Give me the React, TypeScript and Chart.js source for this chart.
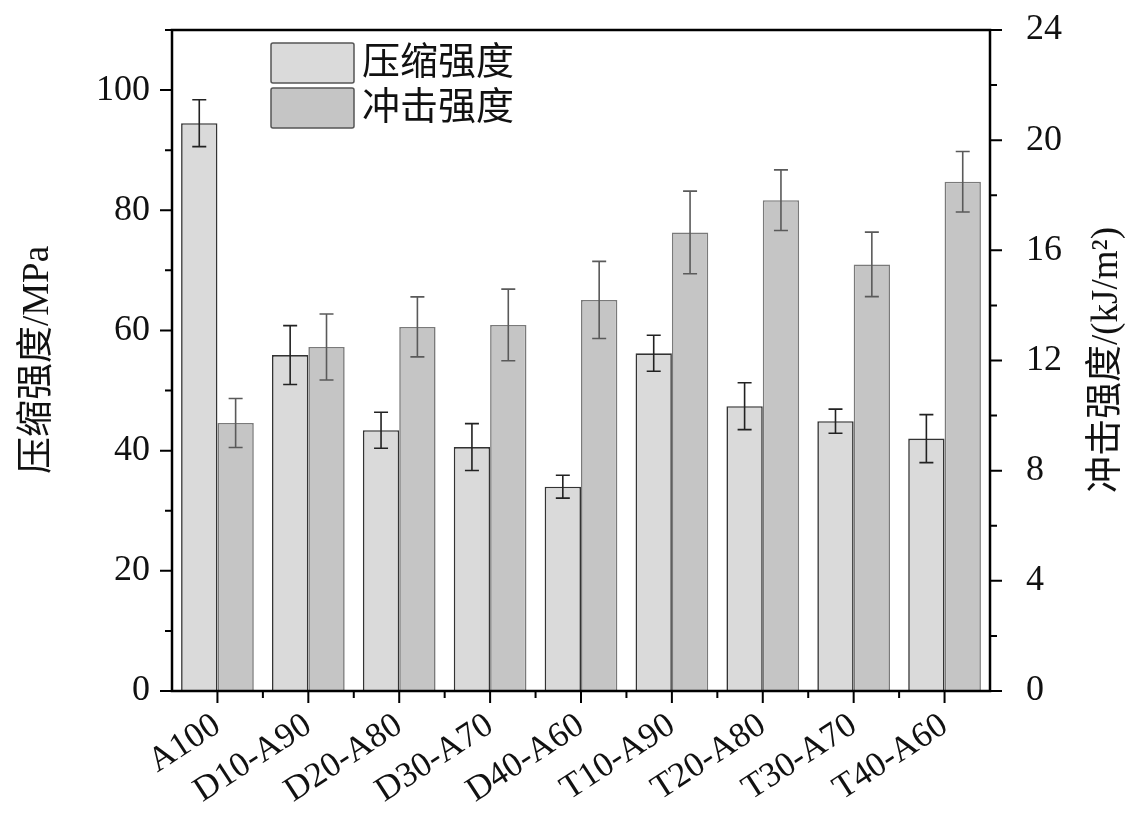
import { useEffect, useRef } from 'react';
import { Chart, registerables } from 'chart.js';

Chart.register(...registerables);

const categories = ['A100', 'D10-A90', 'D20-A80', 'D30-A70', 'D40-A60', 'T10-A90', 'T20-A80', 'T30-A70', 'T40-A60'];
const compressive = [94.5, 55.9, 43.4, 40.6, 34.0, 56.2, 47.4, 44.9, 42.0];
const compressiveErr = [3.9, 4.9, 3.0, 3.9, 1.9, 3.0, 3.9, 2.0, 4.0];
const impact = [9.73, 12.49, 13.22, 13.29, 14.2, 16.65, 17.82, 15.49, 18.49];
const impactErr = [0.89, 1.2, 1.09, 1.3, 1.4, 1.5, 1.1, 1.17, 1.1];
const seriesLabels = ['压缩强度', '冲击强度'];
const leftTitle = '压缩强度/MPa';
const rightTitle = '冲击强度/(kJ/m²)';
const leftMax = 110;
const leftStep = 20;
const rightMax = 24;
const rightStep = 4;

const LIGHT = '#dadada';
const DARK = '#c5c5c5';
const SERIF = '"Liberation Serif", "Noto Sans CJK SC", serif';

const errors = [compressiveErr, impactErr];

const decorPlugin = {
  id: 'decor',
  afterDatasetsDraw(chart: any) {
    const ctx = chart.ctx;
    ctx.save();
    chart.data.datasets.forEach((ds: any, di: number) => {
      const meta = chart.getDatasetMeta(di);
      const yScale = chart.scales[ds.yAxisID];
      const errs = errors[di];
      ctx.strokeStyle = di === 0 ? '#222' : '#5a5a5a';
      ctx.lineWidth = 1.6;
      meta.data.forEach((bar: any, i: number) => {
        const v = ds.data[i];
        const e = errs[i];
        const yt = yScale.getPixelForValue(v + e);
        const yb = yScale.getPixelForValue(v - e);
        const x = bar.x;
        ctx.beginPath();
        ctx.moveTo(x, yt);
        ctx.lineTo(x, yb);
        ctx.moveTo(x - 7, yt);
        ctx.lineTo(x + 7, yt);
        ctx.moveTo(x - 7, yb);
        ctx.lineTo(x + 7, yb);
        ctx.stroke();
      });
    });
    ctx.restore();
  },
  afterDraw(chart: any) {
    const ctx = chart.ctx;
    const { left, right, top, bottom } = chart.chartArea;
    const yL = chart.scales.y;
    const yR = chart.scales.y1;
    const xS = chart.scales.x;
    ctx.save();
    ctx.strokeStyle = '#000';
    ctx.lineWidth = 2.5;
    ctx.strokeRect(left, top, right - left, bottom - top);
    ctx.lineWidth = 2;
    ctx.beginPath();
    for (let v = 0; v <= leftMax; v += 10) {
      const y = yL.getPixelForValue(v);
      const len = v % 20 === 0 ? 12 : 7;
      ctx.moveTo(left, y);
      ctx.lineTo(left - len, y);
    }
    for (let v = 0; v <= rightMax; v += 2) {
      const y = yR.getPixelForValue(v);
      const len = v % 4 === 0 ? 12 : 7;
      ctx.moveTo(right, y);
      ctx.lineTo(right + len, y);
    }
    const n = categories.length;
    for (let i = 0; i < n; i++) {
      const x = xS.getPixelForValue(i);
      ctx.moveTo(x, bottom);
      ctx.lineTo(x, bottom + 12);
      if (i > 0) {
        const xb = (x + xS.getPixelForValue(i - 1)) / 2;
        ctx.moveTo(xb, bottom);
        ctx.lineTo(xb, bottom + 7);
      }
    }
    ctx.stroke();

    // axis titles
    ctx.fillStyle = '#111';
    ctx.font = `37px ${SERIF}`;
    ctx.textAlign = 'center';
    ctx.textBaseline = 'middle';
    ctx.save();
    ctx.translate(38, 360);
    ctx.rotate(-Math.PI / 2);
    ctx.fillText(leftTitle, 0, 0);
    ctx.restore();
    ctx.save();
    ctx.translate(1107, 360);
    ctx.rotate(-Math.PI / 2);
    ctx.fillText(rightTitle, 0, 0);
    ctx.restore();

    // legend
    const bx = left + 99;
    const by = top + 13;
    chart.data.datasets.forEach((ds: any, di: number) => {
      const y = by + di * 45;
      ctx.fillStyle = ds.backgroundColor;
      ctx.strokeStyle = '#555';
      ctx.lineWidth = 1.5;
      ctx.beginPath();
      ctx.roundRect(bx, y, 83, 40, 2);
      ctx.fill();
      ctx.stroke();
      ctx.fillStyle = '#111';
      ctx.font = `38px ${SERIF}`;
      ctx.textAlign = 'left';
      ctx.textBaseline = 'middle';
      ctx.fillText(ds.label, bx + 91, y + 21);
    });
    ctx.restore();
  },
};

export default function App() {
  const ref = useRef<HTMLCanvasElement>(null);
  useEffect(() => {
    if (!ref.current) return;
    const chart = new Chart(ref.current, {
      type: 'bar',
      data: {
        labels: categories,
        datasets: [
          {
            label: seriesLabels[0],
            data: compressive,
            yAxisID: 'y',
            backgroundColor: LIGHT,
            borderColor: '#333',
            borderWidth: 1.6,
            categoryPercentage: 0.8,
            barPercentage: 1.0,
          },
          {
            label: seriesLabels[1],
            data: impact,
            yAxisID: 'y1',
            backgroundColor: DARK,
            borderColor: '#7a7a7a',
            borderWidth: 1.6,
            categoryPercentage: 0.8,
            barPercentage: 1.0,
          },
        ],
      },
      options: {
        responsive: false,
        animation: false,
        devicePixelRatio: 1,
        layout: { padding: { top: 30, left: 0, right: 0, bottom: 0 } },
        plugins: { legend: { display: false }, tooltip: { enabled: false } },
        scales: {
          x: {
            type: 'category',
            offset: true,
            grid: { display: false, drawTicks: false },
            border: { display: false },
            ticks: {
              color: '#111',
              font: { family: SERIF, size: 35 },
              maxRotation: 33,
              minRotation: 33,
              padding: 14,
              autoSkip: false,
            },
            afterFit: (s: any) => { s.height = 149; s.paddingLeft = 0; s.paddingRight = 0; },
          },
          y: {
            position: 'left',
            min: 0,
            max: leftMax,
            grid: { display: false, drawTicks: false },
            border: { display: false },
            ticks: {
              stepSize: leftStep,
              color: '#111',
              font: { family: SERIF, size: 36 },
              padding: 22,
              callback: (v: any) => (v % leftStep === 0 ? String(v) : ''),
            },
            afterFit: (s: any) => { s.width = 172; s.paddingTop = 0; s.paddingBottom = 0; },
          },
          y1: {
            position: 'right',
            min: 0,
            max: rightMax,
            grid: { display: false, drawTicks: false },
            border: { display: false },
            ticks: {
              stepSize: rightStep,
              color: '#111',
              font: { family: SERIF, size: 36 },
              padding: 36,
            },
            afterFit: (s: any) => { s.width = 158; s.paddingTop = 0; s.paddingBottom = 0; },
          },
        },
      },
      plugins: [decorPlugin],
    });
    return () => chart.destroy();
  }, []);
  return (
    <div style={{ position: 'absolute', left: 0, top: 0, width: 1148, height: 840, background: '#fff' }}>
      <canvas ref={ref} width={1148} height={840} style={{ display: 'block' }} />
    </div>
  );
}
